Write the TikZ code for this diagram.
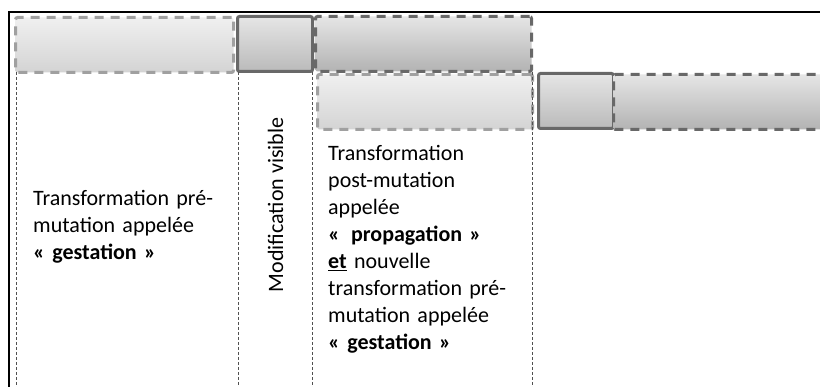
\documentclass[tikz,border=0pt]{standalone}
\usepackage{fontspec}
\setmainfont{Carlito}

\definecolor{lightedge}{HTML}{A0A0A0}
\definecolor{darkedge}{HTML}{686868}
\definecolor{sepline}{HTML}{505050}

\tikzset{
  phase/.style={rounded corners=2pt, line width=3pt, minimum height=55pt,
    anchor=north west, inner sep=0pt},
  lightbox/.style={phase, draw=lightedge, dash pattern=on 9pt off 7pt,
    top color=white!94!black, bottom color=white!83!black},
  darkbox/.style={phase, draw=darkedge, dash pattern=on 9pt off 7pt,
    top color=white!90!black, bottom color=white!70!black},
  solidbox/.style={phase, draw=darkedge,
    top color=white!90!black, bottom color=white!73!black},
  sep/.style={draw=sepline, line width=0.9pt, dash pattern=on 3pt off 2pt},
  txt/.style={anchor=base west, text width=210pt, align=left, inner sep=0pt,
    font=\fontsize{22}{27}\selectfont}
}

\begin{document}
\begin{tikzpicture}[x=1pt, y=-1pt]
        \useasboundingbox (0,0) rectangle (820,387);
        \clip (0,0) rectangle (820,387);
        \fill[white] (0,0) rectangle (820,387);

        % Frame
        \draw[line width=2.3pt] (830,12) -- (9,12) -- (9,397);

        % First row
        \node[lightbox, minimum width=218pt] (gestA) at (14,16) {};
        \node[solidbox, minimum width=75pt] (modA) at (236,15) {};
        \node[darkbox, minimum width=216pt] (propA) at (314,15) {};

        % Second row
        \node[lightbox, minimum width=215pt] (gestB) at (316,73) {};
        \node[solidbox, minimum width=75pt] (modB) at (537,72) {};
        \node[darkbox, minimum width=220pt] (propB) at (612,73) {};

        % Separators
        \draw[sep] (16,72) -- (16,387);
        \draw[sep] (238,72) -- (238,387);
        \draw[sep] (312,72) -- (312,387);
        \draw[sep] (532,72) -- (532,387);

        % Texts
        \node[txt] (gestation) at (33,206)
          {Transformation pré-\\mutation appelée\\\textbf{« gestation »}};
        \node[rotate=90, anchor=base, inner sep=0pt,
          font=\fontsize{22}{27}\selectfont] (visible) at (283,205)
          {Modification visible};
        \node[txt] (propagation) at (328,161)
          {Transformation\\post-mutation\\appelée\\
           \textbf{«\enspace propagation~»}\\
           \underline{\textbf{et}} nouvelle\\transformation pré-\\
           mutation appelée\\\textbf{« gestation »}};
    \end{tikzpicture}
\end{document}
